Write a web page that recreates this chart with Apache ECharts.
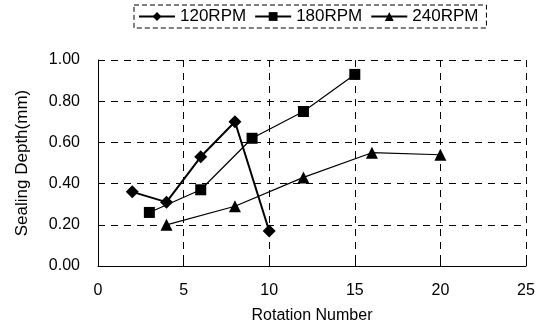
<!DOCTYPE html>
<html>
<head>
<meta charset="utf-8">
<script src="https://cdn.jsdelivr.net/npm/echarts@6/dist/echarts.min.js"></script>
<style>html,body{margin:0;padding:0;background:#fff}#c{width:540px;height:329px}</style>
</head>
<body>
<div id="c"></div>
<script>
const seriesNames = ['120RPM', '180RPM', '240RPM'];
const x120 = [2, 4, 6, 8, 10];
const y120 = [0.36, 0.31, 0.53, 0.70, 0.17];
const x180 = [3, 6, 9, 12, 15];
const y180 = [0.26, 0.37, 0.62, 0.75, 0.93];
const x240 = [4, 8, 12, 16, 20];
const y240 = [0.20, 0.29, 0.43, 0.55, 0.54];
const xTicks = [0, 5, 10, 15, 20, 25];
const yTicks = [0, 0.2, 0.4, 0.6, 0.8, 1.0];

const zip = (xs, ys) => xs.map((x, i) => [x, ys[i]]);
const font = 'Liberation Sans, Arial, Helvetica, sans-serif';
const chart = echarts.init(document.getElementById('c'), null, {renderer: 'canvas'});
const grid = {left: 98, right: 14, top: 60, bottom: 62};
const dash = {color: '#000', width: 1, type: [7, 6]};
chart.setOption({
  animation: false,
  backgroundColor: '#fff',
  grid: grid,
  legend: {
    left: 134, top: 5,
    padding: [3, 8, 3, 4],
    itemGap: 8,
    itemWidth: 36, itemHeight: 11,
    borderColor: '#000', borderWidth: 1, borderType: [5, 3],
    textStyle: {fontFamily: font, fontSize: 17, color: '#000'},
    data: seriesNames
  },
  xAxis: {
    type: 'value', min: xTicks[0], max: xTicks[xTicks.length - 1], interval: 5,
    name: 'Rotation Number', nameLocation: 'middle', nameGap: 42,
    nameTextStyle: {fontFamily: font, fontSize: 16, color: '#000'},
    axisLine: {show: true, lineStyle: {color: '#000', width: 1}},
    axisTick: {show: true, inside: true, length: 4, lineStyle: {color: '#000'}},
    axisLabel: {fontFamily: font, fontSize: 16, color: '#000', margin: 17},
    splitLine: {show: true, lineStyle: dash}
  },
  yAxis: {
    type: 'value', min: yTicks[0], max: yTicks[yTicks.length - 1], interval: 0.2,
    name: 'Sealing Depth(mm)', nameLocation: 'middle', nameGap: 67,
    nameTextStyle: {fontFamily: font, fontSize: 17, color: '#000'},
    axisLine: {show: true, lineStyle: {color: '#000', width: 1}},
    axisTick: {show: true, inside: true, length: 4, lineStyle: {color: '#000'}},
    axisLabel: {fontFamily: font, fontSize: 16, color: '#000', margin: 18,
      formatter: v => v.toFixed(2)},
    splitLine: {show: true, lineStyle: dash}
  },
  series: [
    {name: seriesNames[0], type: 'line', data: zip(x120, y120), symbol: 'diamond', symbolSize: 13,
     itemStyle: {color: '#000'}, lineStyle: {color: '#000', width: 2}},
    {name: seriesNames[1], type: 'line', data: zip(x180, y180), symbol: 'rect', symbolSize: 11,
     itemStyle: {color: '#000'}, lineStyle: {color: '#000', width: 1.2}},
    {name: seriesNames[2], type: 'line', data: zip(x240, y240), symbol: 'triangle', symbolSize: 12,
     itemStyle: {color: '#000'}, lineStyle: {color: '#000', width: 1.2}}
  ]
});
</script>
</body>
</html>
